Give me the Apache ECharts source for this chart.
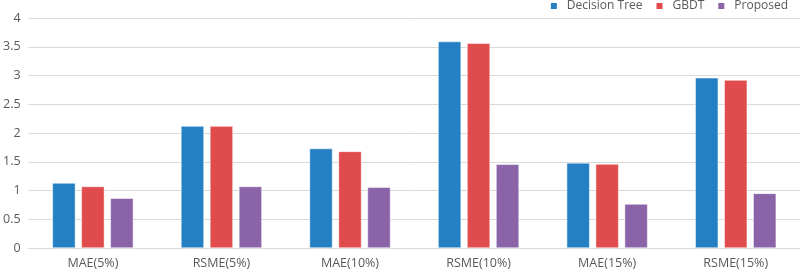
<!DOCTYPE html>
<html><head><meta charset="utf-8">
<script src="https://cdn.jsdelivr.net/npm/echarts@6/dist/echarts.min.js"></script>
<style>html,body{margin:0;padding:0;background:#fff}#c{width:803px;height:275px}</style>
</head><body><div id="c"></div>
<script>
const categories = ['MAE(5%)','RSME(5%)','MAE(10%)','RSME(10%)','MAE(15%)','RSME(15%)'];
const decisionTree = [1.13, 2.12, 1.73, 3.59, 1.48, 2.96];
const gbdt = [1.07, 2.12, 1.68, 3.56, 1.46, 2.92];
const proposed = [0.865, 1.07, 1.055, 1.455, 0.765, 0.95];
const yTicks = {min:0, max:4, interval:0.5};
const font = '"Open Sans", "Noto Sans", sans-serif';
const chart = echarts.init(document.getElementById('c'));
const mk = (name, data, color) => ({
  name, type:'bar', data, barWidth:23, barGap:'26%',
  itemStyle:{color, borderColor:'#fff', borderWidth:0.5}
});
chart.setOption({
  animation:false,
  textStyle:{fontFamily:font},
  legend:{right:10, top:-5, itemWidth:8, itemHeight:8, itemGap:12, icon:'rect',
    textStyle:{color:'#595959', fontSize:12, fontFamily:font, padding:[0,0,0,4]},
    data:['Decision Tree','GBDT','Proposed']},
  grid:{left:22, right:3, top:18, bottom:27, containLabel:false},
  xAxis:{type:'category', data:categories,
    axisLine:{lineStyle:{color:'#d9d9d9', width:1}}, axisTick:{show:false},
    axisLabel:{color:'#595959', fontSize:12.5, margin:9, fontFamily:font}},
  yAxis:{type:'value', min:yTicks.min, max:yTicks.max, interval:yTicks.interval,
    axisLine:{show:false}, axisTick:{show:false},
    splitLine:{lineStyle:{color:'#d9d9d9', width:1}},
    axisLabel:{color:'#595959', fontSize:12.5, margin:8, fontFamily:font,
      formatter:v=>String(v)}},
  series:[mk('Decision Tree', decisionTree, '#2580c3'), mk('GBDT', gbdt, '#e04b4b'), mk('Proposed', proposed, '#8a63a8')]
});
</script></body></html>
